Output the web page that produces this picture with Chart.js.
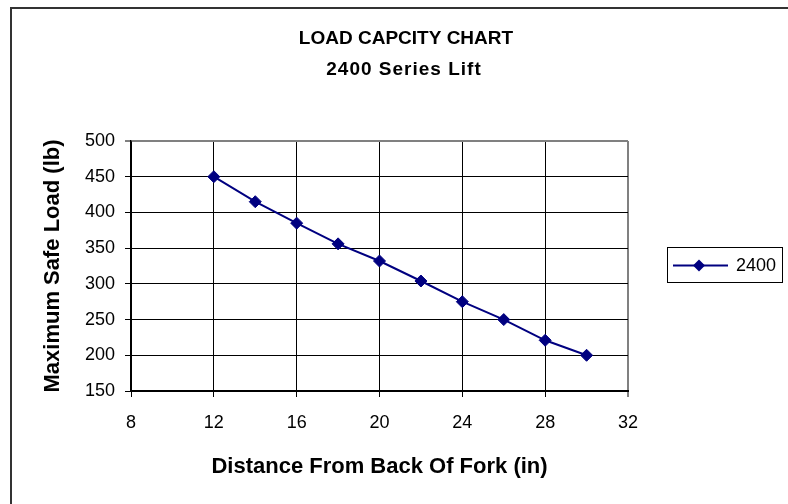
<!DOCTYPE html>
<html>
<head>
<meta charset="utf-8">
<script src="https://cdn.jsdelivr.net/npm/chart.js@4/dist/chart.umd.min.js"></script>
<style>
  html, body { margin: 0; padding: 0; background: #fff; }
  #wrap { width: 788px; height: 504px; position: relative; }
</style>
</head>
<body>
<div id="wrap"><canvas id="chart" width="788" height="504"></canvas></div>
<script>
// data
const distances = [12, 14, 16, 18, 20, 22, 24, 26, 28, 30];
const loads2400 = [450, 415, 385, 356, 332, 304, 275, 250, 221, 200];
const seriesName = '2400';
const chartTitle = 'LOAD CAPCITY CHART';
const chartSubtitle = '2400 Series Lift';
const xTicks = [8, 12, 16, 20, 24, 28, 32];
const yTicks = [150, 200, 250, 300, 350, 400, 450, 500];

const NAVY = '#000080';
const FONT = 'Arial, "Liberation Sans", sans-serif';

// frame (cut off at right/bottom like the source), centred titles, Excel-style legend
const decor = {
  id: 'decor',
  afterDraw(chart) {
    const ctx = chart.ctx;
    ctx.save();
    ctx.lineWidth = 2;
    ctx.strokeStyle = '#333';
    ctx.beginPath();
    ctx.moveTo(11, 504);
    ctx.lineTo(11, 8);
    ctx.lineTo(788, 8);
    ctx.stroke();

    ctx.fillStyle = '#000';
    ctx.textAlign = 'center';
    ctx.textBaseline = 'middle';
    ctx.font = 'bold 19px ' + FONT;
    ctx.fillText(chartTitle, 406, 39);
    ctx.letterSpacing = '1px';
    ctx.fillText(chartSubtitle, 404, 70);
    ctx.letterSpacing = '0px';

    const bx = 667, by = 247, bw = 115, bh = 35;
    ctx.lineWidth = 1;
    ctx.strokeStyle = '#000';
    ctx.strokeRect(bx + 0.5, by + 0.5, bw, bh);
    const cy = by + bh / 2 + 1;
    ctx.strokeStyle = NAVY;
    ctx.lineWidth = 2;
    ctx.beginPath();
    ctx.moveTo(bx + 6, cy);
    ctx.lineTo(bx + 61, cy);
    ctx.stroke();
    ctx.fillStyle = NAVY;
    ctx.beginPath();
    ctx.moveTo(bx + 32, cy - 6);
    ctx.lineTo(bx + 38, cy);
    ctx.lineTo(bx + 32, cy + 6);
    ctx.lineTo(bx + 26, cy);
    ctx.closePath();
    ctx.fill();
    ctx.fillStyle = '#000';
    ctx.textAlign = 'left';
    ctx.font = '18px ' + FONT;
    ctx.fillText(chart.data.datasets[0].label, bx + 69, cy + 1);
    ctx.restore();
  }
};

const edgeGrid = (last) => ({
  color: c => c.tick && c.tick.value === last ? '#808080' : '#000',
  lineWidth: c => c.tick && c.tick.value === last ? 2 : 1,
  tickLength: 6,
  tickColor: '#000',
  tickWidth: 1
});

new Chart(document.getElementById('chart'), {
  type: 'line',
  data: {
    datasets: [{
      label: seriesName,
      data: distances.map((d, i) => ({ x: d, y: loads2400[i] })),
      borderColor: NAVY,
      backgroundColor: NAVY,
      borderWidth: 2,
      pointStyle: 'rectRot',
      pointRadius: 6,
      pointHoverRadius: 6,
      pointBorderWidth: 1,
      tension: 0
    }]
  },
  options: {
    responsive: false,
    animation: false,
    layout: { padding: { left: 40, top: 141, right: 160, bottom: 24 } },
    plugins: {
      legend: { display: false },
      tooltip: { enabled: false },
      title: { display: false }
    },
    scales: {
      x: {
        type: 'linear',
        min: xTicks[0],
        max: xTicks[xTicks.length - 1],
        afterBuildTicks: s => { s.ticks = xTicks.map(v => ({ value: v })); },
        afterFit: s => { s.height = 89; },
        border: { color: '#000', width: 2 },
        grid: edgeGrid(xTicks[xTicks.length - 1]),
        ticks: { color: '#000', font: { family: FONT, size: 18 }, padding: 15, maxRotation: 0 },
        title: {
          display: true,
          text: 'Distance From Back Of Fork (in)',
          color: '#000',
          font: { family: FONT, size: 22, weight: 'bold' },
          padding: { top: 0, bottom: 0 }
        }
      },
      y: {
        type: 'linear',
        min: yTicks[0],
        max: yTicks[yTicks.length - 1],
        afterBuildTicks: s => { s.ticks = yTicks.map(v => ({ value: v })); },
        afterFit: s => { s.width = 91; },
        border: { color: '#000', width: 1.5 },
        grid: edgeGrid(yTicks[yTicks.length - 1]),
        ticks: { color: '#000', font: { family: FONT, size: 18 }, padding: 10 },
        title: {
          display: true,
          text: 'Maximum Safe Load (lb)',
          color: '#000',
          font: { family: FONT, size: 22, weight: 'bold' },
          padding: { top: 0, bottom: 0 }
        }
      }
    }
  },
  plugins: [decor]
});
</script>
</body>
</html>
